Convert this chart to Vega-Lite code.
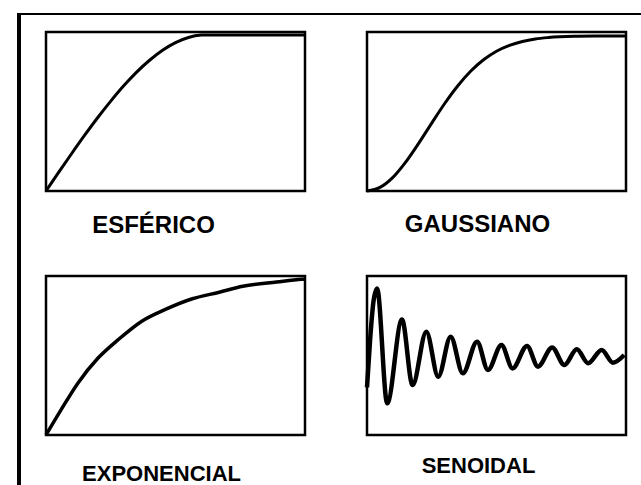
{
  "$schema": "https://vega.github.io/schema/vega-lite/v6.json",
  "padding": {"left": 17, "top": 13, "right": 0, "bottom": 0},
  "background": "white",
  "datasets": {
    "esferico": [{"x":0,"y":0},{"x":0.05,"y":0.122},{"x":0.1,"y":0.242},{"x":0.15,"y":0.359},{"x":0.2,"y":0.471},{"x":0.25,"y":0.576},{"x":0.3,"y":0.674},{"x":0.35,"y":0.762},{"x":0.4,"y":0.838},{"x":0.45,"y":0.902},{"x":0.5,"y":0.951},{"x":0.55,"y":0.984},{"x":0.6,"y":0.999},{"x":0.615,"y":1},{"x":1,"y":1}],
    "gaussiano": [{"x":0,"y":0},{"x":0.05,"y":0.023},{"x":0.1,"y":0.088},{"x":0.15,"y":0.188},{"x":0.2,"y":0.309},{"x":0.25,"y":0.438},{"x":0.3,"y":0.564},{"x":0.35,"y":0.677},{"x":0.4,"y":0.772},{"x":0.45,"y":0.846},{"x":0.5,"y":0.901},{"x":0.55,"y":0.939},{"x":0.6,"y":0.964},{"x":0.65,"y":0.98},{"x":0.7,"y":0.989},{"x":0.8,"y":0.997},{"x":0.9,"y":0.999},{"x":1,"y":1}],
    "exponencial": [{"x":0,"y":0},{"x":0.058,"y":0.158},{"x":0.123,"y":0.326},{"x":0.201,"y":0.484},{"x":0.279,"y":0.6},{"x":0.37,"y":0.716},{"x":0.461,"y":0.79},{"x":0.565,"y":0.857},{"x":0.669,"y":0.898},{"x":0.76,"y":0.935},{"x":0.89,"y":0.962},{"x":0.987,"y":0.979},{"x":1,"y":0.98}],
    "senoidal": [{"x":0,"y":0.3},{"x":0.012,"y":0.6},{"x":0.025,"y":0.84},{"x":0.039,"y":0.922},{"x":0.078,"y":0.199},{"x":0.135,"y":0.727},{"x":0.176,"y":0.314},{"x":0.229,"y":0.65},{"x":0.275,"y":0.367},{"x":0.323,"y":0.618},{"x":0.37,"y":0.388},{"x":0.425,"y":0.587},{"x":0.467,"y":0.409},{"x":0.519,"y":0.566},{"x":0.562,"y":0.419},{"x":0.618,"y":0.56},{"x":0.66,"y":0.43},{"x":0.715,"y":0.551},{"x":0.762,"y":0.44},{"x":0.81,"y":0.539},{"x":0.854,"y":0.451},{"x":0.906,"y":0.535},{"x":0.95,"y":0.455},{"x":0.993,"y":0.503}]
  },
  "config": {
    "view": {"stroke": "black", "strokeWidth": 2.5},
    "title": {"font": "Liberation Sans", "fontWeight": "bold", "fontSize": 24, "color": "black", "orient": "bottom", "anchor": "middle"}
  },
  "spacing": 0,
  "hconcat": [
    {"width": 4, "height": 480, "data": {"values": []}, "mark": "point", "view": {"fill": "black", "stroke": null}},
    {
      "spacing": 12,
      "vconcat": [
        {"width": 620, "height": 2, "data": {"values": []}, "mark": "point", "view": {"fill": "black", "stroke": null}},
        {
          "spacing": 15,
          "hconcat": [
            {"width": 1, "height": 1, "data": {"values": []}, "mark": "point", "view": {"stroke": null}},
            {
              "columns": 2,
              "bounds": "flush",
              "spacing": {"row": 85, "column": 62},
              "concat": [
                {
                  "width": 259, "height": 159,
                  "title": {"text": "ESFÉRICO", "offset": 17, "dx": -22},
                  "data": {"name": "esferico"},
                  "mark": {"type": "line", "interpolate": "monotone", "color": "black", "strokeWidth": 3},
                  "encoding": {
                    "x": {"field": "x", "type": "quantitative", "scale": {"domain": [0, 1], "nice": false, "zero": false}, "axis": null},
                    "y": {"field": "y", "type": "quantitative", "scale": {"domain": [0, 1.019], "nice": false}, "axis": null}
                  }
                },
                {
                  "width": 259, "height": 159,
                  "title": {"text": "GAUSSIANO", "offset": 16, "dx": -19},
                  "data": {"name": "gaussiano"},
                  "mark": {"type": "line", "interpolate": "monotone", "color": "black", "strokeWidth": 3},
                  "encoding": {
                    "x": {"field": "x", "type": "quantitative", "scale": {"domain": [0, 1], "nice": false, "zero": false}, "axis": null},
                    "y": {"field": "y", "type": "quantitative", "scale": {"domain": [0, 1.025], "nice": false}, "axis": null}
                  }
                },
                {
                  "width": 259, "height": 159,
                  "title": {"text": "EXPONENCIAL", "offset": 22, "dx": -14, "fontSize": 22},
                  "data": {"name": "exponencial"},
                  "mark": {"type": "line", "interpolate": "monotone", "color": "black", "strokeWidth": 3.5},
                  "encoding": {
                    "x": {"field": "x", "type": "quantitative", "scale": {"domain": [0, 1], "nice": false, "zero": false}, "axis": null},
                    "y": {"field": "y", "type": "quantitative", "scale": {"domain": [0, 1], "nice": false}, "axis": null}
                  }
                },
                {
                  "width": 259, "height": 159,
                  "title": {"text": "SENOIDAL", "offset": 21, "dx": -18, "fontSize": 22},
                  "data": {"name": "senoidal"},
                  "mark": {"type": "line", "interpolate": "monotone", "color": "black", "strokeWidth": 4.5},
                  "encoding": {
                    "x": {"field": "x", "type": "quantitative", "scale": {"domain": [0, 1], "nice": false, "zero": false}, "axis": null},
                    "y": {"field": "y", "type": "quantitative", "scale": {"domain": [0, 1], "nice": false}, "axis": null}
                  }
                }
              ]
            }
          ]
        }
      ]
    }
  ]
}
